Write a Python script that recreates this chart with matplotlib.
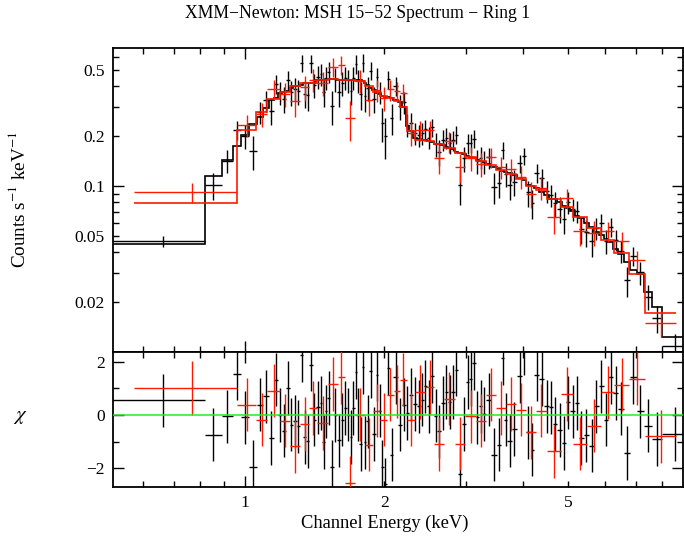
import numpy as np
import matplotlib
matplotlib.use("Agg")
import matplotlib.pyplot as plt
from matplotlib.ticker import FixedLocator, FuncFormatter

plt.rcParams['font.family'] = ['Liberation Serif', 'DejaVu Serif']
plt.rcParams['mathtext.fontset'] = 'stix'

# ---------------- data ----------------
# Dataset 1 (black): channel bin edges in keV
black_edges = [0.51, 0.818, 0.889, 0.942, 0.980, 1.020, 1.059,
    1.093, 1.124, 1.152, 1.178, 1.204, 1.227, 1.248, 1.270, 1.294, 1.315,
    1.335, 1.355, 1.378, 1.402, 1.424, 1.449, 1.469, 1.488, 1.506, 1.528,
    1.554, 1.582, 1.611, 1.636, 1.660, 1.684, 1.705, 1.726, 1.748, 1.768,
    1.787, 1.809, 1.831, 1.855, 1.885, 1.918, 1.943, 1.967, 1.996, 2.026,
    2.060, 2.095, 2.138, 2.184, 2.225, 2.265, 2.312, 2.357, 2.397, 2.437,
    2.477, 2.519, 2.561, 2.608, 2.657, 2.702, 2.747, 2.795, 2.844, 2.891,
    2.949, 3.008, 3.060, 3.106, 3.158, 3.210, 3.264, 3.324, 3.408, 3.502,
    3.579, 3.640, 3.696, 3.775, 3.880, 3.978, 4.062, 4.148, 4.227, 4.326,
    4.446, 4.557, 4.646, 4.745, 4.853, 4.958, 5.060, 5.167, 5.284, 5.411,
    5.554, 5.694, 5.832, 5.970, 6.104, 6.256, 6.424, 6.602, 6.812, 7.043,
    7.294, 7.594, 7.991, 9.05]
# folded model, counts s^-1 keV^-1
black_model = [0.0447, 0.1149, 0.1435, 0.175, 0.203, 0.236,
    0.262, 0.295, 0.33, 0.339, 0.365, 0.369, 0.372, 0.39, 0.40, 0.40,
    0.405, 0.415, 0.417, 0.42, 0.42, 0.435, 0.438, 0.438, 0.44, 0.44,
    0.44, 0.44, 0.435, 0.432, 0.432, 0.432, 0.432, 0.432, 0.432, 0.432,
    0.432, 0.43, 0.415, 0.406, 0.392, 0.379, 0.365, 0.358, 0.35, 0.344,
    0.342, 0.338, 0.328,
    0.320, 0.30, 0.23, 0.215, 0.195, 0.192, 0.19, 0.188, 0.186, 0.183,
    0.18, 0.178, 0.177, 0.172, 0.169, 0.166, 0.160, 0.157, 0.155, 0.151,
    0.149, 0.147, 0.144, 0.141, 0.139, 0.136, 0.130, 0.127, 0.123, 0.121,
    0.120, 0.116, 0.111, 0.108, 0.102, 0.100, 0.097, 0.092,
    0.088, 0.084, 0.083, 0.080, 0.076, 0.074, 0.071, 0.066, 0.064, 0.060,
    0.057, 0.053, 0.051, 0.048, 0.046, 0.042, 0.039, 0.035, 0.031, 0.0295,
    0.023, 0.0187, 0.0123]
# residuals, (data - model) / error
black_chi = [0.55, -0.74, -0.05, 1.55, -0.09, -1.95,
    0.39, 0.70, -0.86, 1.33, 0.0, -0.59, 1.01, -0.36, -0.24, -0.43,
    2.24, -0.83, -0.99, 1.89, -0.18, 0.29, 0.45, -1.01, 0.14, 0.64,
    -1.94, 0.0, -0.95, -0.18, 0.26, 0.01, -0.83, 0.26, 1.61, 0.01,
    -1.09, 1.79, -1.03, -0.24, 1.64, -0.71, 1.51, 0.16, -1.95, -2.6,
    1.76, -1.49, 1.41,
    -0.36, 0.39, 0.08, 0.76, 0.41, 0.33, 0.58, 1.08, 0.33, 1.45,
    -0.03, -0.61, 0.45, 0.86, 0.49, 0.86, 1.70, -2.21, -0.34, 1.24,
    1.35, 1.95, -0.09, 0.33, 0.04, 0.58, -1.49, -1.11, 2.14, -0.18,
    -0.96, -0.53, 1.45, 2.5, -0.65, -1.30, 1.51, 1.35,
    0.33, 0.29, -0.34, -0.56, -1.05, 0.48, 0.14, 0.45, -0.86, -0.76,
    -1.15, 0.33, 1.08, -0.18, 1.43, 0.83, 0.24, -1.43, 1.43, 0.14,
    -0.40, -0.90, -0.71]
black_frac_err_first = 0.08   # fractional 1-sigma error of the first (wide) bin
black_frac_err = 0.16         # typical fractional 1-sigma error of other bins

# Dataset 2 (red)
red_edges = [0.574, 0.961, 1.056, 1.116, 1.188, 1.251, 1.315, 1.376, 1.432,
    1.512, 1.590, 1.643, 1.730, 1.822, 1.891, 1.960, 2.029, 2.098, 2.163,
    2.238, 2.337, 2.450, 2.565, 2.696, 2.841, 2.998, 3.156, 3.318, 3.493,
    3.672, 3.860, 4.057, 4.254, 4.505, 4.825, 5.128, 5.499, 5.886, 6.292,
    6.769, 7.341, 8.569]
red_model = [0.079, 0.218, 0.28, 0.335, 0.37, 0.40, 0.415, 0.42, 0.438, 0.44,
    0.435, 0.432, 0.43, 0.40, 0.368, 0.348, 0.34, 0.325, 0.30, 0.215,
    0.19, 0.186, 0.178, 0.169, 0.157, 0.149, 0.141, 0.133, 0.125, 0.118,
    0.110, 0.100, 0.095, 0.083, 0.075, 0.065, 0.056, 0.047, 0.0395, 0.0295,
    0.0172]
red_chi = [1.01, 0.39, -0.18, 0.91, -0.21, -1.18, -0.34, 0.26, -0.30, 1.16,
    1.43, -2.55, 0.01, -1.11, 0.16, -0.18, 0.76, 0.89, 1.33, -0.18,
    0.86, 1.05, -1.09, 0.61, -1.08, -0.05, -0.21, 0.76, 0.26, 0.41,
    0.20, -0.65, 0.16, -1.36, 0.79, -1.08, -0.40, 0.85, 1.14, 1.36,
    -0.80]
red_frac_err = 0.16

title = "XMM\u2212Newton: MSH 15\u221252 Spectrum \u2212 Ring 1"
x_label = "Channel Energy (keV)"
y_label = r"Counts s$^{-1}$ keV$^{-1}$"
res_label = r"$\chi$"

# ---------------- figure ----------------
W, H = 684, 537
fig = plt.figure(figsize=(W / 100, H / 100), dpi=100)
L, R = 113, 683
T1, B1, B2 = 48, 352, 487
ax1 = fig.add_axes([L / W, (H - B1) / H, (R - L) / W, (B1 - T1) / H])
ax2 = fig.add_axes([L / W, (H - B2) / H, (R - L) / W, (B2 - B1) / H])


def prep(edges, model, chi, frac):
    edges = np.asarray(edges, float)
    model = np.asarray(model, float)
    chi = np.asarray(chi, float)
    frac = np.asarray(frac, float)
    lo, hi = edges[:-1], edges[1:]
    cen = 0.5 * (lo + hi)
    err = frac * model
    data = model + chi * err
    return edges, lo, hi, cen, model, chi, data, err


bfrac = np.full(len(black_model), black_frac_err)
bfrac[0] = black_frac_err_first
sets = [
    (prep(black_edges, black_model, black_chi, bfrac), 'black', 2),
    (prep(red_edges, red_model, red_chi, np.full(len(red_model), red_frac_err)), '#ff1a00', 3),
]

elw = 1.0
for (edges, lo, hi, cen, model, chi, data, err), col, z in sets:
    xe = [cen - lo, hi - cen]
    ax1.errorbar(cen, data, xerr=xe, yerr=err, fmt='none', ecolor=col,
                 elinewidth=elw, capsize=0, zorder=z)
    ax1.stairs(model, edges, color=col, lw=1.2, baseline=None, zorder=z + 0.5)
    ax2.errorbar(cen, chi, xerr=xe, yerr=np.ones_like(chi), fmt='none',
                 ecolor=col, elinewidth=elw, capsize=0, zorder=z)

ax2.axhline(0.0, color='#22ee22', lw=1.1, zorder=10)

xlo, xhi = 0.5176, 8.87
for ax in (ax1, ax2):
    ax.set_xscale('log')
    ax.set_xlim(xlo, xhi)
    ax.xaxis.set_major_locator(FixedLocator([1.0, 10.0]))
    ax.xaxis.set_minor_locator(FixedLocator([0.6, 0.7, 0.8, 0.9, 2, 3, 4, 5, 6, 7, 8]))
    ax.tick_params(which='both', direction='in', top=True, right=True,
                   width=1.0, labelsize=12.5)
    ax.tick_params(which='major', length=8)
    ax.tick_params(which='minor', length=4.5)
    for s in ax.spines.values():
        s.set_linewidth(1.3)

ax1.set_yscale('log')
ax1.set_ylim(0.01, 0.678)
ax1.yaxis.set_major_locator(FixedLocator([0.01, 0.1, 1.0]))
ax1.yaxis.set_minor_locator(FixedLocator([0.02, 0.03, 0.04, 0.05, 0.06, 0.07, 0.08, 0.09,
                                          0.2, 0.3, 0.4, 0.5, 0.6]))
ylab_vals = (0.02, 0.05, 0.1, 0.2, 0.5)


def yfmt(v, p):
    for t in ylab_vals:
        if abs(v - t) < 1e-9:
            return '%g' % t
    return ''


ax1.yaxis.set_major_formatter(FuncFormatter(yfmt))
ax1.yaxis.set_minor_formatter(FuncFormatter(yfmt))
ax1.tick_params(axis='x', which='both', labelbottom=False)
ax1.tick_params(axis='y', which='both', pad=6)

xlab_vals = (1, 2, 5)


def xfmt(v, p):
    for t in xlab_vals:
        if abs(v - t) < 1e-9:
            return '%g' % t
    return ''


ax2.xaxis.set_major_formatter(FuncFormatter(xfmt))
ax2.xaxis.set_minor_formatter(FuncFormatter(xfmt))
ax2.tick_params(axis='x', which='both', pad=6)
ax2.set_ylim(-2.70, 2.364)
ax2.yaxis.set_major_locator(FixedLocator([-2, 0, 2]))
ax2.yaxis.set_minor_locator(FixedLocator([-1, 1]))
ax2.yaxis.set_major_formatter(FuncFormatter(lambda v, p: ('%d' % v).replace('-', '\u2212')))
ax2.tick_params(axis='y', which='both', pad=6)

fig.text(358 / W, 1 - 14 / H, title, ha='center', va='center', fontsize=12.7)
fig.text(385 / W, 1 - 523 / H, x_label, ha='center', va='center', fontsize=13.3)
fig.text(19 / W, 1 - 200 / H, y_label, ha='center', va='center', rotation=90, fontsize=13.8)
fig.text(20 / W, 1 - 416 / H, res_label, ha='center', va='center', fontsize=15)

fig.savefig('out.png', dpi=100)
